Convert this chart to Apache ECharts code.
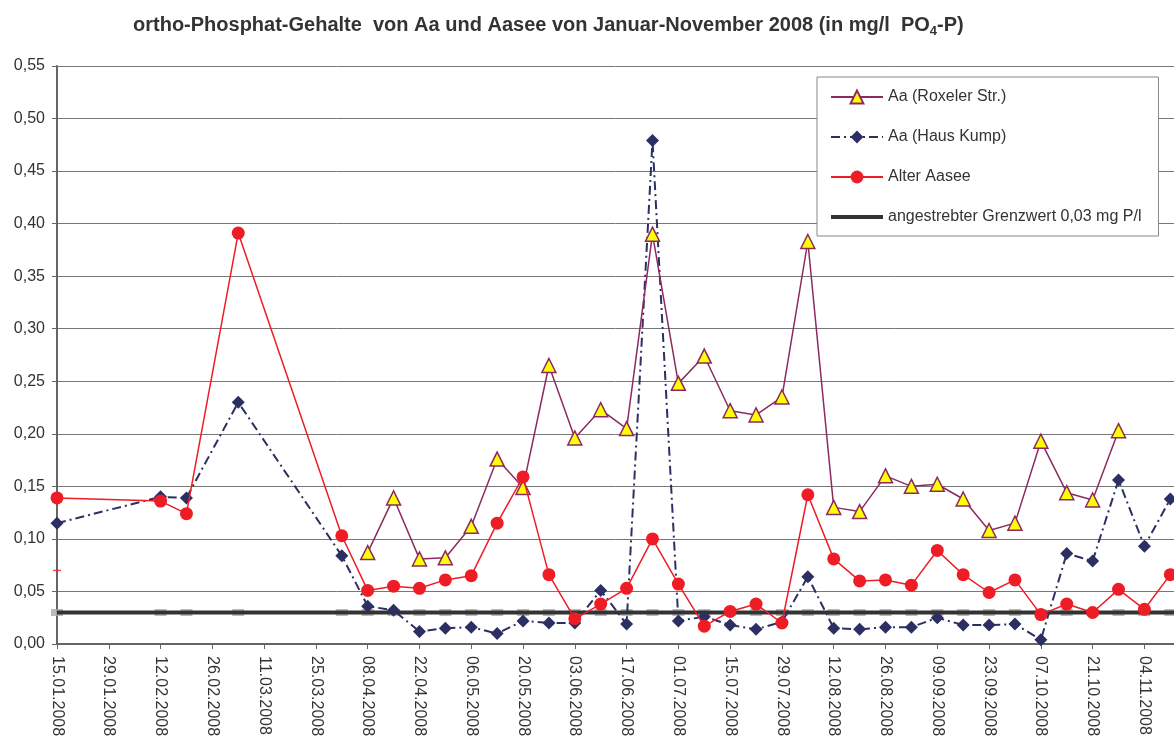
<!DOCTYPE html>
<html>
<head>
<meta charset="utf-8">
<script src="https://cdn.jsdelivr.net/npm/echarts@6/dist/echarts.min.js"></script>
<style>
  html, body { margin: 0; padding: 0; background: #fff; }
  #chart { width: 1174px; height: 745px; }
</style>
</head>
<body>
<div id="chart"></div>
<script>
// sampling dates (Tuesdays)
const sampleDates = [
  '15.01.2008', '12.02.2008', '19.02.2008', '04.03.2008', '01.04.2008',
  '08.04.2008', '15.04.2008', '22.04.2008', '29.04.2008', '06.05.2008',
  '13.05.2008', '20.05.2008', '27.05.2008', '03.06.2008', '10.06.2008',
  '17.06.2008', '24.06.2008', '01.07.2008', '08.07.2008', '15.07.2008',
  '22.07.2008', '29.07.2008', '05.08.2008', '12.08.2008', '19.08.2008',
  '26.08.2008', '02.09.2008', '09.09.2008', '16.09.2008', '23.09.2008',
  '30.09.2008', '07.10.2008', '14.10.2008', '21.10.2008', '28.10.2008',
  '04.11.2008', '11.11.2008'
];
// Aa (Roxeler Str.) - no samples before 08.04 and after 28.10
const roxeler = [
  null, null, null, null, null,
  0.087, 0.139, 0.081, 0.082, 0.112,
  0.176, 0.149, 0.265, 0.196, 0.223,
  0.205, 0.390, 0.248, 0.274, 0.222,
  0.218, 0.235, 0.383, 0.130, 0.126,
  0.160, 0.150, 0.152, 0.138, 0.108,
  0.115, 0.193, 0.144, 0.137, 0.203,
  null, null
];
// Aa (Haus Kump)
const hausKump = [
  0.115, 0.140, 0.139, 0.230, 0.084,
  0.036, 0.032, 0.012, 0.015, 0.016,
  0.010, 0.022, 0.020, 0.020, 0.051,
  0.019, 0.479, 0.022, 0.026, 0.018,
  0.014, 0.021, 0.064, 0.015, 0.014,
  0.016, 0.016, 0.025, 0.018, 0.018,
  0.019, 0.004, 0.086, 0.079, 0.156,
  0.093, 0.138
];
// Alter Aasee
const alterAasee = [
  0.139, 0.136, 0.124, 0.391, 0.103,
  0.051, 0.055, 0.053, 0.061, 0.065,
  0.115, 0.159, 0.066, 0.024, 0.038,
  0.053, 0.100, 0.057, 0.017, 0.031,
  0.038, 0.020, 0.142, 0.081, 0.060,
  0.061, 0.056, 0.089, 0.066, 0.049,
  0.061, 0.028, 0.038, 0.030, 0.052,
  0.033, 0.066
];
const grenzwert = 0.03;
const strayMark = [['15.01.2008', 0.07]];

const axisStart = '15.01.2008';
const axisEnd = '12.11.2008';
const tickDays = 14;

const start = Date.UTC(2008, 0, 15);
function dayOf(s) {
  const p = s.split('.').map(Number);
  return (Date.UTC(p[2], p[1] - 1, p[0]) - start) / 86400000;
}
function pad(n) { return (n < 10 ? '0' : '') + n; }
function dateLabel(v) {
  const t = new Date(start + v * 86400000);
  return pad(t.getUTCDate()) + '.' + pad(t.getUTCMonth() + 1) + '.' + t.getUTCFullYear();
}
function pairs(values) {
  const out = [];
  sampleDates.forEach(function (d, i) {
    if (values[i] != null) out.push([dayOf(d), values[i]]);
  });
  return out;
}

const font = 'Liberation Sans, Arial, sans-serif';
const chart = echarts.init(document.getElementById('chart'));

const option = {
  backgroundColor: '#fff',
  animation: false,
  textStyle: { fontFamily: font },
  title: {
    text: 'ortho-Phosphat-Gehalte  von Aa und Aasee von Januar-November 2008 (in mg/l  PO{sub|4}-P)',
    left: 128,
    top: 7,
    textStyle: {
      fontFamily: font,
      fontSize: 20,
      fontWeight: 'bold',
      color: '#333',
      lineHeight: 26,
      rich: {
        sub: { fontFamily: font, fontSize: 13, fontWeight: 'bold', color: '#333', lineHeight: 24, verticalAlign: 'bottom' }
      }
    }
  },
  legend: {
    orient: 'vertical',
    left: 817,
    top: 77,
    padding: [12, 17, 11, 13],
    itemGap: 24,
    itemWidth: 52,
    itemHeight: 16,
    backgroundColor: '#fff',
    borderColor: '#888',
    borderWidth: 1,
    textStyle: { fontFamily: font, fontSize: 16, color: '#333' },
    data: [
      'Aa (Roxeler Str.)',
      'Aa (Haus Kump)',
      'Alter Aasee',
      { name: 'angestrebter Grenzwert 0,03 mg P/l', icon: 'path://M0,0L52,0L52,4L0,4Z' }
    ]
  },
  grid: { left: 57, right: 0, top: 66, bottom: 101 },
  xAxis: {
    type: 'value',
    min: dayOf(axisStart),
    max: dayOf(axisEnd),
    interval: tickDays,
    splitLine: { show: false },
    axisLine: { lineStyle: { color: '#666', width: 2 } },
    axisTick: { length: 5, lineStyle: { color: '#666', width: 1 } },
    axisLabel: {
      rotate: -90,
      margin: 12,
      fontFamily: font,
      fontSize: 16,
      color: '#333',
      showMaxLabel: false,
      formatter: function (v) { return v % tickDays === 0 ? dateLabel(v) : ''; }
    }
  },
  yAxis: {
    type: 'value',
    min: 0,
    max: 0.55,
    interval: 0.05,
    axisLine: { show: true, lineStyle: { color: '#666', width: 2 } },
    axisTick: { show: true, length: 5, lineStyle: { color: '#666' } },
    splitLine: { lineStyle: { color: '#777', width: 1 } },
    axisLabel: {
      margin: 12,
      fontFamily: font,
      fontSize: 16,
      color: '#333',
      formatter: function (v) { return v.toFixed(2).replace('.', ','); }
    }
  },
  series: [
    {
      name: 'grenzwert-marks',
      type: 'scatter',
      symbol: 'rect',
      symbolSize: [12, 7],
      itemStyle: { color: '#aaa' },
      z: 1,
      silent: true,
      data: sampleDates.map(function (d) { return [dayOf(d), grenzwert]; })
    },
    {
      name: 'angestrebter Grenzwert 0,03 mg P/l',
      type: 'line',
      symbol: 'none',
      z: 2,
      lineStyle: { color: '#333', width: 4 },
      itemStyle: { color: '#333' },
      data: [[dayOf(axisStart), grenzwert], [dayOf(axisEnd), grenzwert]]
    },
    {
      name: 'Aa (Roxeler Str.)',
      type: 'line',
      symbol: 'triangle',
      symbolSize: 14,
      z: 4,
      lineStyle: { color: '#8B2A60', width: 1.5 },
      itemStyle: { color: '#FFFF00', borderColor: '#8B2A60', borderWidth: 1.5 },
      data: pairs(roxeler)
    },
    {
      name: 'Aa (Haus Kump)',
      type: 'line',
      symbol: 'diamond',
      symbolSize: 13,
      z: 3,
      lineStyle: { color: '#2B2F62', width: 2, type: [9, 4, 2, 4] },
      itemStyle: { color: '#2B2F62' },
      data: pairs(hausKump)
    },
    {
      name: 'Alter Aasee',
      type: 'line',
      symbol: 'circle',
      symbolSize: 13,
      z: 5,
      lineStyle: { color: '#EE1C25', width: 1.5 },
      itemStyle: { color: '#EE1C25' },
      data: pairs(alterAasee)
    },
    {
      name: 'stray',
      type: 'scatter',
      symbol: 'rect',
      symbolSize: [8, 1.5],
      silent: true,
      itemStyle: { color: '#EE1C25' },
      data: strayMark.map(function (p) { return [dayOf(p[0]), p[1]]; })
    }
  ]
};
chart.setOption(option);
</script>
</body>
</html>
